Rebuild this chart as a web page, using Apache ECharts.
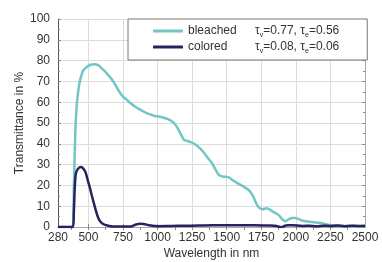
<!DOCTYPE html>
<html>
<head>
<meta charset="utf-8">
<script src="https://cdn.jsdelivr.net/npm/echarts@6/dist/echarts.min.js"></script>
<style>
  html, body { margin: 0; padding: 0; background: #fff; }
  #chart { width: 382px; height: 262px; }
</style>
</head>
<body>
<div id="chart"></div>
<script>
// wavelength in nm / transmittance in %
var wlBleached = [280, 385, 395, 405, 416, 430, 445, 465, 490, 515, 540, 570, 600, 625, 650, 680, 710, 745, 780, 815, 850, 890, 930, 980, 1030, 1070, 1100, 1125, 1145, 1165, 1190, 1210, 1240, 1265, 1295, 1330, 1360, 1395, 1420, 1445, 1475, 1510, 1545, 1580, 1620, 1655, 1680, 1700, 1720, 1740, 1760, 1790, 1820, 1850, 1880, 1905, 1925, 1950, 1975, 2000, 2020, 2050, 2090, 2130, 2170, 2210, 2240, 2270, 2320, 2400, 2500];
var tBleached = [0, 0, 20, 45, 59, 67, 72, 75.5, 77, 78, 78.2, 77.8, 76, 74.5, 72.5, 70, 66.5, 63, 61, 59, 57.3, 55.8, 54.5, 53.4, 52.8, 52, 51, 49.5, 47.5, 45, 42, 41.5, 40.8, 40, 38.5, 36.2, 33.5, 30.5, 27.5, 25, 24.2, 24, 22.5, 21, 19.5, 18, 16, 13.5, 10.5, 9, 8.5, 9, 8, 6.8, 5.5, 3.5, 2.8, 3.8, 4.3, 4.3, 3.8, 3, 2.6, 2.3, 2, 1.5, 1, 0.7, 0.5, 0.5, 0.4];

var wlColored = [280, 388, 395, 402, 410, 425, 445, 460, 478, 495, 510, 525, 545, 560, 575, 595, 620, 660, 700, 760, 800, 820, 845, 870, 900, 930, 960, 1000, 1100, 1200, 1300, 1400, 1500, 1600, 1700, 1800, 1860, 1885, 1900, 1920, 1940, 1980, 2050, 2100, 2150, 2200, 2250, 2300, 2350, 2400, 2450, 2500];
var tColored = [0, 0, 8, 20, 26, 28, 28.8, 28.3, 26.5, 22.5, 19, 15, 10, 6.5, 3.8, 2, 1, 0.4, 0.2, 0.2, 0.2, 0.5, 1.2, 1.6, 1.4, 1, 0.6, 0.4, 0.5, 0.6, 0.7, 0.8, 0.8, 0.9, 0.9, 0.7, 0.5, 0, 0, 0.6, 0.9, 0.8, 0.5, 0.6, 0.4, 0.6, 0.5, 0.7, 0.4, 0.6, 0.5, 0.6];

var seriesNames = ['bleached', 'colored'];
var tauV = ['0.77', '0.08'];
var tauE = ['0.56', '0.06'];

var xLabels = [280, 500, 750, 1000, 1250, 1500, 1750, 2000, 2250, 2500];
var xGrid = [500, 750, 1000, 1250, 1500, 1750, 2000, 2250];
var xTopTicks = [375, 500, 625, 750, 875, 1000, 1125, 1250, 1375, 1500, 1625, 1750, 1875, 2000, 2125, 2250, 2375];

function pairs(xs, ys) {
  return xs.map(function (x, i) { return [x, ys[i]] })
}

var font = "'Liberation Sans', Arial, sans-serif"

var chart = echarts.init(document.getElementById('chart'))
chart.setOption({
  animation: false,
  textStyle: { fontFamily: font },
  grid: { left: 58, right: 17, top: 19, bottom: 35, outerBoundsMode: 'none', containLabel: false },
  legend: {
    left: 128,
    top: 19,
    orient: 'vertical',
    selectedMode: false,
    backgroundColor: '#fff',
    borderColor: '#777',
    borderWidth: 1,
    borderRadius: 0,
    padding: [4, 28, 5, 25],
    itemGap: 0,
    itemWidth: 30,
    itemHeight: 3,
    icon: 'rect',
    data: seriesNames,
    formatter: function (name) {
      var i = seriesNames.indexOf(name)
      return '{n|' + name + '}{t|τ}{s|v}{t|=' + tauV[i] + ', τ}{s|e}{t|=' + tauE[i] + '}'
    },
    textStyle: {
      fontFamily: font,
      color: '#333',
      rich: {
        n: { width: 67, fontSize: 12, height: 16, lineHeight: 16, color: '#333', fontFamily: font },
        t: { fontSize: 12, height: 16, lineHeight: 16, color: '#333', fontFamily: font },
        s: { fontSize: 7, lineHeight: 9, verticalAlign: 'bottom', color: '#333', fontFamily: font }
      }
    }
  },
  xAxis: [
    {
      type: 'value',
      min: 280,
      max: 2500,
      name: 'Wavelength in nm',
      nameLocation: 'middle',
      nameGap: 21,
      nameMoveOverlap: false,
      nameTextStyle: { fontSize: 12, color: '#333' },
      axisLine: { lineStyle: { color: '#555', width: 1 } },
      axisTick: { show: true, inside: true, length: 3, customValues: xGrid, lineStyle: { color: '#888' } },
      axisLabel: {
        customValues: xLabels, fontSize: 12, color: '#333', margin: 5,
        showMinLabel: true, showMaxLabel: true,
        formatter: function (v) { return String(v) }
      },
      splitLine: { show: true, lineStyle: { color: '#dcdcdc', width: 1 } }
    },
    {
      type: 'value',
      position: 'top',
      min: 280,
      max: 2500,
      axisLine: { show: true, lineStyle: { color: '#aaa', width: 1 } },
      axisTick: { show: true, inside: true, length: 3, customValues: xTopTicks, lineStyle: { color: '#888' } },
      axisLabel: { show: false },
      splitLine: { show: false }
    }
  ],
  yAxis: [
    {
      type: 'value',
      min: 0,
      max: 100,
      interval: 10,
      name: 'Transmittance in %',
      nameLocation: 'middle',
      nameGap: 32,
      nameMoveOverlap: false,
      nameTextStyle: { fontSize: 12, color: '#333' },
      axisLine: { show: true, lineStyle: { color: '#555', width: 1 } },
      axisTick: { show: true, inside: true, length: 3, lineStyle: { color: '#888' } },
      minorTick: { show: true, splitNumber: 2, length: 2, lineStyle: { color: '#888' } },
      axisLabel: { fontSize: 12, color: '#333', margin: 8 },
      splitLine: { show: true, lineStyle: { color: '#dcdcdc', width: 1 } }
    },
    {
      type: 'value',
      position: 'right',
      min: 0,
      max: 100,
      interval: 10,
      axisLine: { show: true, lineStyle: { color: '#aaa', width: 1 } },
      axisTick: { show: true, inside: true, length: 3, lineStyle: { color: '#888' } },
      minorTick: { show: true, splitNumber: 2, length: 2, lineStyle: { color: '#888' } },
      axisLabel: { show: false },
      splitLine: { show: false }
    }
  ],
  series: [
    {
      name: 'bleached',
      type: 'line',
      data: pairs(wlBleached, tBleached),
      showSymbol: false,
      smooth: 0.3,
      color: '#72c6c4',
      lineStyle: { width: 2.5, color: '#72c6c4' }
    },
    {
      name: 'colored',
      type: 'line',
      data: pairs(wlColored, tColored),
      showSymbol: false,
      smooth: 0.3,
      color: '#28235f',
      lineStyle: { width: 2.5, color: '#28235f' }
    }
  ]
})
</script>
</body>
</html>
